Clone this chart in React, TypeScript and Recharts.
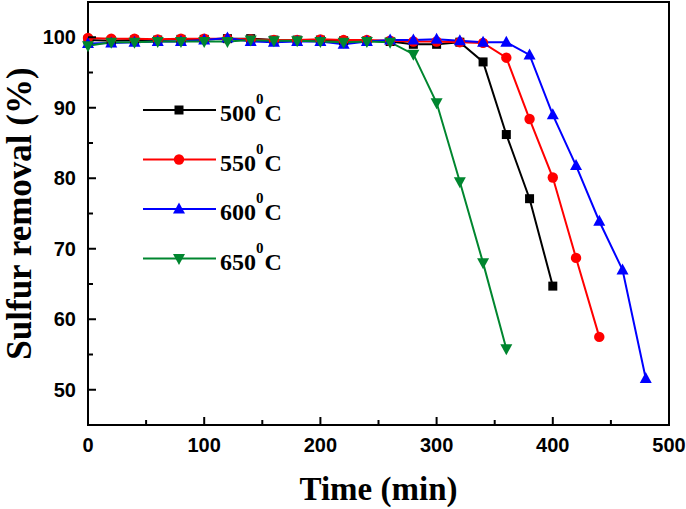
import React from 'react';
import { LineChart, Line, XAxis, YAxis, ReferenceArea, Legend, Label } from 'recharts';

const times = [0, 20, 40, 60, 80, 100, 120, 140, 160, 180, 200, 220, 240, 260, 280, 300, 320, 340, 360, 380, 400, 420, 440, 460, 480];

const s500 = [99.6, 99.5, 99.6, 99.6, 99.7, 99.7, 99.8, 99.8, 99.6, 99.6, 99.6, 99.5, 99.5, 99.4, 99.0, 99.0, 99.3, 96.5, 86.2, 77.1, 64.7];
const s550 = [99.9, 99.8, 99.8, 99.7, 99.8, 99.8, 99.8, 99.7, 99.6, 99.6, 99.7, 99.6, 99.6, 99.5, 99.4, 99.4, 99.3, 99.2, 97.1, 88.4, 80.1, 68.7, 57.5];
const s600 = [99.1, 99.2, 99.3, 99.4, 99.4, 99.6, 99.9, 99.4, 99.3, 99.4, 99.4, 99.0, 99.4, 99.6, 99.6, 99.7, 99.5, 99.3, 99.3, 97.5, 89.0, 81.8, 73.9, 67.0, 51.6];
const s650 = [98.8, 99.3, 99.3, 99.4, 99.4, 99.4, 99.4, 99.6, 99.5, 99.5, 99.4, 99.3, 99.4, 99.3, 97.6, 90.7, 79.5, 68.0, 55.8];

const xTicks = [0, 50, 100, 150, 200, 250, 300, 350, 400, 450, 500];
const yTicks = [50, 55, 60, 65, 70, 75, 80, 85, 90, 95, 100];

const series = [
  { key: 'c500', label: '500', color: '#000000', shape: 'square', values: s500 },
  { key: 'c550', label: '550', color: '#ff0000', shape: 'circle', values: s550 },
  { key: 'c600', label: '600', color: '#0000ff', shape: 'up', values: s600 },
  { key: 'c650', label: '650', color: '#00862f', shape: 'down', values: s650 },
];

const data = times.map((t, i) => {
  const row: Record<string, number | null> = { time: t };
  series.forEach((s) => {
    row[s.key] = i < s.values.length ? s.values[i] : null;
  });
  return row;
});

const sans = '"Liberation Sans", Arial, sans-serif';
const serif = '"Liberation Serif", "Times New Roman", serif';

function Marker({ cx, cy, shape, color }: { cx: number; cy: number; shape: string; color: string }) {
  if (shape === 'square') return <rect x={cx - 4.5} y={cy - 4.5} width={9} height={9} fill={color} />;
  if (shape === 'circle') return <circle cx={cx} cy={cy} r={5.2} fill={color} />;
  if (shape === 'up') return <polygon points={`${cx},${cy - 6.5} ${cx + 6},${cy + 4.5} ${cx - 6},${cy + 4.5}`} fill={color} />;
  return <polygon points={`${cx},${cy + 6.5} ${cx + 6},${cy - 4.5} ${cx - 6},${cy - 4.5}`} fill={color} />;
}

const XTick = (props: any) => {
  const { x, y, payload } = props;
  const major = payload.value % 100 === 0;
  return (
    <g>
      <line x1={x} x2={x} y1={y} y2={y - (major ? 8 : 5)} stroke="#000" strokeWidth={2} />
      {major && (
        <text x={x} y={y + 27} textAnchor="middle" fontFamily={sans} fontWeight="bold" fontSize={20} fill="#000">
          {payload.value}
        </text>
      )}
    </g>
  );
};

const YTick = (props: any) => {
  const { x, y, payload } = props;
  const major = payload.value % 10 === 0;
  return (
    <g>
      <line x1={x} x2={x + (major ? 8 : 5)} y1={y} y2={y} stroke="#000" strokeWidth={2} />
      {major && (
        <text x={x - 12} y={y + 7} textAnchor="end" fontFamily={sans} fontWeight="bold" fontSize={20} fill="#000">
          {payload.value}
        </text>
      )}
    </g>
  );
};

const LegendBox = () => (
  <svg width={170} height={200}>
    {series.map((s, i) => {
      const y = 20 + i * 49.5;
      return (
        <g key={s.key}>
          <line x1={13} x2={86} y1={y} y2={y} stroke={s.color} strokeWidth={2} />
          <Marker cx={49} cy={y} shape={s.shape} color={s.color} />
          <text x={90} y={y + 11} fontFamily={serif} fontWeight="bold" fontSize={24} fill="#000">
            {s.label}
            <tspan dy={-17} fontSize={15}>0</tspan>
            <tspan dy={17} dx={1}>C</tspan>
          </text>
        </g>
      );
    })}
  </svg>
);

export default function App() {
  return (
    <div style={{ position: 'absolute', left: 0, top: 0, background: '#fff' }}>
      <LineChart width={686} height={509} data={data} margin={{ top: 2, right: 17, bottom: 0, left: 0 }}>
        <XAxis
          dataKey="time"
          type="number"
          domain={[0, 500]}
          ticks={xTicks}
          interval={0}
          height={84}
          axisLine={false}
          tickLine={false}
          tickSize={0}
          tickMargin={0}
          tick={XTick}
        >
          <Label
            content={(p: any) => {
              const vb = p.viewBox;
              return (
                <text x={vb.x + vb.width / 2} y={500} textAnchor="middle" fontFamily={serif} fontWeight="bold" fontSize={33} fill="#000">
                  Time (min)
                </text>
              );
            }}
          />
        </XAxis>
        <YAxis
          type="number"
          domain={[45, 105]}
          ticks={yTicks}
          interval={0}
          width={88}
          axisLine={false}
          tickLine={false}
          tickSize={0}
          tickMargin={0}
          tick={YTick}
        >
          <Label
            content={(p: any) => {
              const vb = p.viewBox;
              const cy = vb.y + vb.height / 2;
              return (
                <text x={31} y={cy} transform={`rotate(-90 31 ${cy})`} textAnchor="middle" fontFamily={serif} fontWeight="bold" fontSize={35} fill="#000">
                  Sulfur removal (%)
                </text>
              );
            }}
          />
        </YAxis>
        <ReferenceArea x1={0} x2={500} y1={45} y2={105} fill="none" stroke="#000" strokeWidth={2} />
        <Legend
          layout="vertical"
          align="center"
          verticalAlign="middle"
          content={LegendBox}
          wrapperStyle={{ left: 130, top: 90, width: 170, height: 200 }}
        />
        {series.map((s) => (
          <Line
            key={s.key}
            dataKey={s.key}
            stroke={s.color}
            strokeWidth={2}
            isAnimationActive={false}
            connectNulls={false}
            activeDot={false}
            dot={(p: any) =>
              p.cy == null || p.value == null ? (
                <g key={p.key} />
              ) : (
                <Marker key={p.key} cx={p.cx} cy={p.cy} shape={s.shape} color={s.color} />
              )
            }
          />
        ))}
      </LineChart>
    </div>
  );
}
